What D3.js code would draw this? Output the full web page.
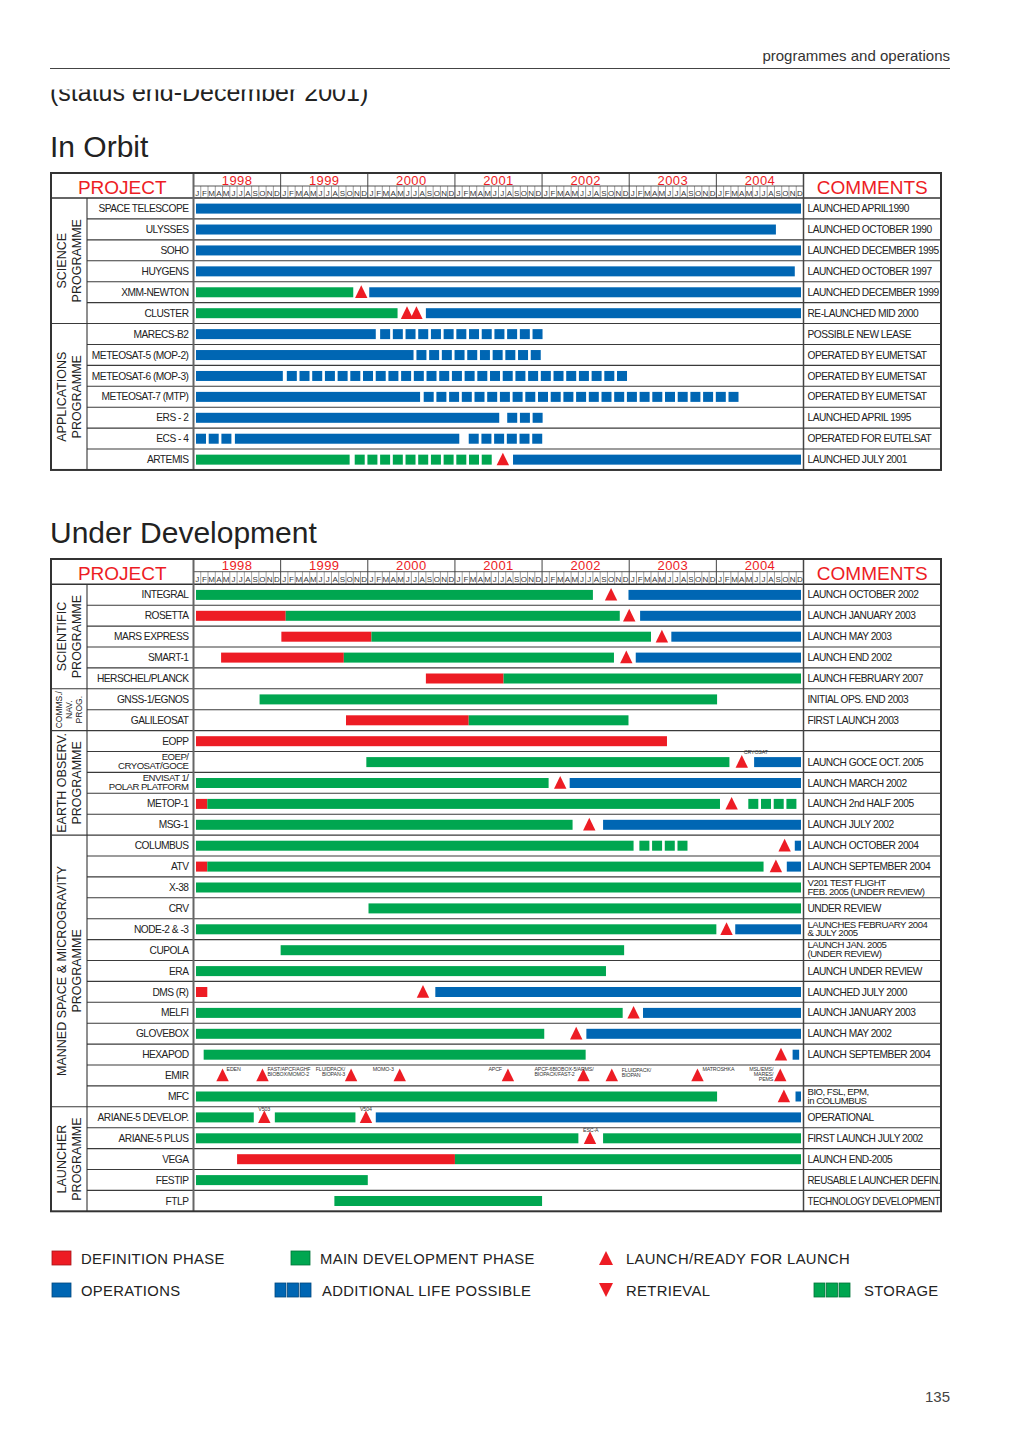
<!DOCTYPE html>
<html><head><meta charset="utf-8">
<script src="https://cdn.jsdelivr.net/npm/d3@7"></script>
<style>
body{margin:0;background:#fff}
svg{display:block}
text{font-family:"Liberation Sans",Arial,Helvetica,sans-serif}
</style>
</head><body>
<svg id="chart" width="1020" height="1443"></svg>
<script>
// ---------------- DATA ----------------
const years = [1998, 1999, 2000, 2001, 2002, 2003, 2004];
const monthLetters = ["J","F","M","A","M","J","J","A","S","O","N","D"];

// month units: 0 = start of Jan 1998, 84 = end of Dec 2004
const orbitGroups = [
  {label: ["SCIENCE", "PROGRAMME"], size: 6},
  {label: ["APPLICATIONS", "PROGRAMME"], size: 7}
];
const orbitProjects = ["SPACE TELESCOPE","ULYSSES","SOHO","HUYGENS","XMM-NEWTON","CLUSTER",
  "MARECS-B2","METEOSAT-5 (MOP-2)","METEOSAT-6 (MOP-3)","METEOSAT-7    (MTP)","ERS - 2","ECS - 4","ARTEMIS"];
const orbitComments = ["LAUNCHED APRIL1990","LAUNCHED OCTOBER 1990","LAUNCHED DECEMBER 1995",
  "LAUNCHED OCTOBER 1997","LAUNCHED DECEMBER 1999","RE-LAUNCHED MID 2000","POSSIBLE NEW  LEASE",
  "OPERATED BY EUMETSAT","OPERATED BY EUMETSAT","OPERATED BY EUMETSAT","LAUNCHED APRIL 1995",
  "OPERATED FOR EUTELSAT","LAUNCHED JULY 2001"];
const orbitBars = [
  [["ops", 0, 84]],
  [["ops", 0, 80.2]],
  [["ops", 0, 84]],
  [["ops", 0, 82.8]],
  [["dev", 0, 22.0], ["ops", 24.2, 84]],
  [["dev", 0, 28.1], ["ops", 32.0, 84]],
  [["ops", 0, 25.1], ["add", 25.7, 48]],
  [["ops", 0, 30.3], ["add", 30.7, 48]],
  [["ops", 0, 12.3], ["add", 12.85, 60]],
  [["ops", 0, 31.2], ["add", 31.7, 75.2]],
  [["ops", 0, 42.1], ["add", 43.2, 48]],
  [["add", 0, 5.3], ["ops", 5.7, 36.6], ["add", 37.9, 48]],
  [["dev", 0, 21.5], ["sto", 22.2, 41.3], ["ops", 44.0, 84]]
];
const orbitLaunches = [[],[],[],[],[23.1],[29.4, 30.7],[],[],[],[],[],[],[42.6]];
const orbitLaunchLabels = orbitLaunches.map(r => r.map(() => null));

const devGroups = [
  {label: ["SCIENTIFIC", "PROGRAMME"], size: 5},
  {label: ["COMMS./", "NAV.", "PROG."], size: 2},
  {label: ["EARTH OBSERV.", "PROGRAMME"], size: 5},
  {label: ["MANNED SPACE & MICROGRAVITY", "PROGRAMME"], size: 13},
  {label: ["LAUNCHER", "PROGRAMME"], size: 5}
];
const devProjects = ["INTEGRAL","ROSETTA","MARS EXPRESS","SMART-1","HERSCHEL/PLANCK",
  "GNSS-1/EGNOS","GALILEOSAT",
  "EOPP","EOEP/\nCRYOSAT/GOCE","ENVISAT 1/\nPOLAR PLATFORM","METOP-1","MSG-1",
  "COLUMBUS","ATV","X-38","CRV","NODE-2 & -3","CUPOLA","ERA","DMS (R)","MELFI","GLOVEBOX","HEXAPOD","EMIR","MFC",
  "ARIANE-5 DEVELOP.","ARIANE-5 PLUS","VEGA","FESTIP","FTLP"];
const devComments = ["LAUNCH OCTOBER 2002","LAUNCH JANUARY 2003","LAUNCH MAY  2003","LAUNCH END 2002",
  "LAUNCH FEBRUARY 2007","INITIAL OPS. END 2003","FIRST LAUNCH 2003",
  "","LAUNCH GOCE OCT. 2005","LAUNCH MARCH 2002","LAUNCH 2nd HALF 2005","LAUNCH JULY 2002",
  "LAUNCH OCTOBER 2004","LAUNCH SEPTEMBER 2004","V201 TEST FLIGHT\nFEB. 2005 (UNDER REVIEW)","UNDER REVIEW",
  "LAUNCHES FEBRUARY 2004\n&  JULY 2005","LAUNCH JAN. 2005\n(UNDER REVIEW)","LAUNCH UNDER REVIEW",
  "LAUNCHED JULY 2000","LAUNCH JANUARY 2003","LAUNCH MAY 2002","LAUNCH SEPTEMBER 2004","",
  "BIO, FSL, EPM,\nin COLUMBUS","OPERATIONAL","FIRST LAUNCH JULY 2002","LAUNCH END-2005",
  "REUSABLE LAUNCHER DEFIN.","TECHNOLOGY DEVELOPMENT"];
const devBars = [
  [["dev", 0, 55.0], ["ops", 59.9, 84]],
  [["def", 0, 12.7], ["dev", 12.7, 58.7], ["ops", 61.5, 84]],
  [["def", 12.1, 24.5], ["dev", 24.5, 63.0], ["ops", 65.8, 84]],
  [["def", 3.8, 20.7], ["dev", 20.7, 57.9], ["ops", 60.9, 84]],
  [["def", 32.0, 42.7], ["dev", 42.7, 84]],
  [["dev", 9.1, 72.1]],
  [["def", 21.0, 37.9], ["dev", 37.9, 59.9]],
  [["def", 0, 65.2]],
  [["dev", 23.8, 73.8], ["ops", 77.2, 84]],
  [["dev", 0, 48.9], ["ops", 51.8, 84]],
  [["def", 0, 1.9], ["dev", 1.9, 72.5], ["sto", 76.4, 84]],
  [["dev", 0, 52.2], ["ops", 56.4, 84]],
  [["dev", 0, 60.6], ["sto", 61.4, 68.1], ["ops", 82.8, 84]],
  [["def", 0, 1.9], ["dev", 1.9, 78.5], ["ops", 81.7, 84]],
  [["dev", 0, 84]],
  [["dev", 24.1, 84]],
  [["dev", 0, 72.0], ["ops", 74.6, 84]],
  [["dev", 12.0, 59.3]],
  [["dev", 0, 56.8]],
  [["def", 0, 1.9], ["ops", 33.3, 84]],
  [["dev", 0, 59.1], ["ops", 61.9, 84]],
  [["dev", 0, 48.3], ["ops", 54.1, 84]],
  [["dev", 1.4, 54.0], ["ops", 82.5, 83.4]],
  [],
  [["dev", 0, 72.1], ["ops", 82.9, 84]],
  [["dev", 0, 8.3], ["dev", 11.2, 22.3], ["ops", 25.1, 84]],
  [["dev", 0, 53.0], ["dev", 56.4, 84]],
  [["def", 6.0, 36.0], ["dev", 36.0, 84]],
  [["dev", 0, 24.0]],
  [["dev", 19.4, 48.0]]
];
const devLaunches = [[57.5],[60.0],[64.5],[59.6],[],[],[],[],[75.5],[50.5],[74.1],[54.5],
  [81.4],[80.2],[],[],[73.4],[],[],[31.6],[60.6],[52.7],[80.9],
  [4.0, 9.5, 21.7, 28.4, 43.3, 53.7, 57.6, 69.4, 80.8],
  [81.3],[9.75, 23.75],[54.6],[],[],[]];
const devLaunchLabels = devLaunches.map(r => r.map(() => null));
devLaunchLabels[8] = [["CRYOSAT"]];
devLaunchLabels[23] = [["EDEN"], ["FAST/APCF/AGHF", "BIOBOX/MOMO-2"], ["FLUIDPACK/", "BIOPAN-3"], ["MOMO-3"],
  ["APCF"], ["APCF-6BIOBOX-5/ARMS/", "BIOPACK/FAST-2"], ["FLUIDPACK/", "BIOPAN"], ["MATROSHKA"],
  ["MSL/EMS/", "MARES/", "PEMS"]];
devLaunchLabels[25] = [["V503"], ["V504"]];
devLaunchLabels[26] = [["ESC-A"]];

const legendItems = [
  ["def", "DEFINITION PHASE"], ["dev", "MAIN DEVELOPMENT PHASE"], ["launch", "LAUNCH/READY FOR LAUNCH"],
  ["ops", "OPERATIONS"], ["add", "ADDITIONAL LIFE POSSIBLE"], ["retrieval", "RETRIEVAL"], ["sto", "STORAGE"]
];

// ---------------- LAYOUT / STYLE ----------------
const colors = {def: "#ed1c24", dev: "#00a650", ops: "#0066b3", add: "#0066b3", sto: "#00a650", launch: "#ed1c24"};
const RED = "#ed1c24";
// label placement for small launch labels: [dx of text anchor from apex, anchor, dy of first baseline from row top]
const labelLayout = {
  "CRYOSAT": [2, "start", 2.5],
  "EDEN": [4, "start", 5.5],
  "FAST/APCF/AGHF": [5, "start", 5.5],
  "FLUIDPACK/|BIOPAN-3": [-6, "end", 5.5],
  "MOMO-3": [-6, "end", 5.5],
  "APCF": [-6, "end", 5.5],
  "APCF-6BIOBOX-5/ARMS/": [-49, "start", 5.5],
  "FLUIDPACK/|BIOPAN": [10, "start", 7],
  "MATROSHKA": [5, "start", 5.5],
  "MSL/EMS/": [-7, "end", 5.5],
  "V503": [-6, "start", 4],
  "V504": [-6, "start", 4],
  "ESC-A": [-7, "start", 4]
};

const svg = d3.select("#chart");
const L = {left: 51, grp: 87, name: 193.5, time1: 803.5, right: 941};
const x = d3.scaleLinear().domain([0, 84]).range([L.name, L.time1]);

// page header
svg.append("line").attr("x1", 50).attr("x2", 950).attr("y1", 68.5).attr("y2", 68.5)
  .attr("stroke", "#444").attr("stroke-width", 1);
svg.append("text").attr("x", 950).attr("y", 61).attr("text-anchor", "end")
  .attr("font-size", 15).attr("fill", "#333").text("programmes and operations");
svg.append("clipPath").attr("id", "statusclip").append("rect")
  .attr("x", 0).attr("y", 89.5).attr("width", 1020).attr("height", 40);
svg.append("text").attr("x", 50).attr("y", 101).attr("font-size", 25).attr("fill", "#222")
  .attr("clip-path", "url(#statusclip)").text("(status end-December 2001)");
svg.append("text").attr("x", 50).attr("y", 157).attr("font-size", 30).attr("fill", "#222").text("In Orbit");
svg.append("text").attr("x", 50).attr("y", 543).attr("font-size", 30).attr("fill", "#222").text("Under Development");
svg.append("text").attr("x", 950).attr("y", 1402).attr("text-anchor", "end")
  .attr("font-size", 15).attr("fill", "#444").text("135");

function multiText(g, lines, xPos, rowTop, rowH, anchor, size, maxW) {
  const t = g.append("text").attr("x", xPos).attr("text-anchor", anchor)
    .attr("font-size", lines.length > 1 ? size - 0.6 : size)
    .attr("letter-spacing", -0.5).attr("fill", "#222");
  const fit = el => {
    const w = el.node().getComputedTextLength();
    if (w > maxW) el.attr("textLength", maxW).attr("lengthAdjust", "spacingAndGlyphs");
  };
  if (lines.length === 1) {
    t.attr("y", rowTop + rowH / 2 + 3.7).text(lines[0]);
    fit(t);
  } else {
    lines.forEach((s, i) => fit(t.append("tspan").attr("x", xPos).attr("y", rowTop + 8.8 + i * 8.9).text(s)));
  }
}

function drawTable(cfg) {
  const g = svg.append("g");
  const n = cfg.projects.length;
  const rowTop = i => cfg.headerBottom + i * cfg.rowH;
  const bottom = rowTop(n);

  // header: years
  years.forEach((yr, i) => {
    g.append("text").attr("x", x(i * 12 + 6)).attr("y", cfg.yearBottom - 1.3)
      .attr("text-anchor", "middle").attr("font-size", 13).attr("letter-spacing", 0.4)
      .attr("fill", RED).text(yr);
  });
  // header: months
  d3.range(84).forEach(m => {
    g.append("text").attr("x", x(m + 0.5)).attr("y", cfg.headerBottom - 2.3)
      .attr("text-anchor", "middle").attr("font-size", 8).attr("fill", "#333")
      .attr("textLength", m % 12 === 2 || m % 12 === 4 ? 6.6 : null)
      .text(monthLetters[m % 12]);
    if (m > 0 && m % 12 !== 0) {
      g.append("line").attr("x1", x(m)).attr("x2", x(m)).attr("y1", cfg.yearBottom).attr("y2", cfg.headerBottom)
        .attr("stroke", "#777").attr("stroke-width", 0.7);
    }
  });
  d3.range(1, 7).forEach(k => {
    g.append("line").attr("x1", x(k * 12)).attr("x2", x(k * 12)).attr("y1", cfg.top).attr("y2", cfg.headerBottom)
      .attr("stroke", "#444").attr("stroke-width", 1);
  });
  g.append("line").attr("x1", L.name).attr("x2", L.time1).attr("y1", cfg.yearBottom).attr("y2", cfg.yearBottom)
    .attr("stroke", "#444").attr("stroke-width", 0.9);
  g.append("text").attr("x", (L.left + L.name) / 2).attr("y", cfg.headerBottom - 4.5)
    .attr("text-anchor", "middle").attr("font-size", 19).attr("fill", RED).text("PROJECT");
  g.append("text").attr("x", (L.time1 + L.right) / 2).attr("y", cfg.headerBottom - 4.5)
    .attr("text-anchor", "middle").attr("font-size", 19).attr("fill", RED).text("COMMENTS");

  // row lines
  const groupStarts = new Set();
  let acc = 0;
  cfg.groups.forEach(gr => { groupStarts.add(acc); acc += gr.size; });
  d3.range(1, n).forEach(i => {
    g.append("line").attr("x1", groupStarts.has(i) ? L.left : L.grp).attr("x2", L.right)
      .attr("y1", rowTop(i)).attr("y2", rowTop(i)).attr("stroke", "#3a3a3a").attr("stroke-width", 1.1);
  });
  g.append("line").attr("x1", L.left).attr("x2", L.right).attr("y1", cfg.headerBottom).attr("y2", cfg.headerBottom)
    .attr("stroke", "#333").attr("stroke-width", 1.5);
  g.append("line").attr("x1", L.grp).attr("x2", L.grp).attr("y1", cfg.headerBottom).attr("y2", bottom)
    .attr("stroke", "#333").attr("stroke-width", 1.1);
  g.append("line").attr("x1", L.name).attr("x2", L.name).attr("y1", cfg.top).attr("y2", bottom)
    .attr("stroke", "#666").attr("stroke-width", 2);
  g.append("line").attr("x1", L.time1).attr("x2", L.time1).attr("y1", cfg.top).attr("y2", bottom)
    .attr("stroke", "#444").attr("stroke-width", 1.5);
  g.append("rect").attr("x", L.left).attr("y", cfg.top).attr("width", L.right - L.left)
    .attr("height", bottom - cfg.top).attr("fill", "none").attr("stroke", "#333").attr("stroke-width", 2);

  // group labels
  acc = 0;
  cfg.groups.forEach(gr => {
    const cy = (rowTop(acc) + rowTop(acc + gr.size)) / 2;
    const cx = (L.left + L.grp) / 2;
    const three = gr.label.length > 2;
    const fs = three ? 8.5 : 12.5, lh = three ? 10 : 14.5;
    const t = g.append("text").attr("transform", `translate(${cx},${cy}) rotate(-90)`)
      .attr("text-anchor", "middle").attr("font-size", fs).attr("fill", "#222");
    gr.label.forEach((s, i) => t.append("tspan").attr("x", 0)
      .attr("y", (i - (gr.label.length - 1) / 2) * lh + fs * 0.36).text(s));
    acc += gr.size;
  });

  // names and comments
  cfg.projects.forEach((p, i) => multiText(g, p.split("\n"), L.name - 5, rowTop(i), cfg.rowH, "end", 10.2, 100));
  cfg.comments.forEach((c, i) => { if (c) multiText(g, c.split("\n"), L.time1 + 4, rowTop(i), cfg.rowH, "start", 10.2, 132.5); });

  // bars
  const xs = v => Math.max(x(v), L.name + 2.5);
  const xe = v => Math.min(x(v), L.time1 - 2.5);
  cfg.bars.forEach((segs, i) => {
    const y0 = rowTop(i) + 5.6;
    segs.forEach(([type, s, e]) => {
      if (type === "add" || type === "sto") {
        d3.range(xs(s), xe(e) - 9.3, 12.7).forEach(sx => {
          g.append("rect").attr("x", sx).attr("y", y0).attr("width", 10).attr("height", 10).attr("fill", colors[type]);
        });
      } else {
        g.append("rect").attr("x", xs(s)).attr("y", y0).attr("width", xe(e) - xs(s)).attr("height", 10)
          .attr("fill", colors[type]);
      }
    });
  });
  // launches
  cfg.launches.forEach((ms, i) => {
    const top = rowTop(i) + 3.6, bot = rowTop(i) + 16.3;
    ms.forEach((m, j) => {
      const cx = x(m);
      g.append("path").attr("d", `M${cx - 6.2},${bot}L${cx + 6.2},${bot}L${cx},${top}Z`).attr("fill", RED);
      const lab = cfg.labels[i][j];
      if (lab) {
        const key = labelLayout[lab[0]] ? lab[0] : lab.join("|");
        const [dx, anchor, dy] = labelLayout[key];
        const t = g.append("text").attr("text-anchor", anchor).attr("font-size", 5.3)
          .attr("letter-spacing", -0.15).attr("fill", "#333");
        lab.forEach((s, k) => t.append("tspan").attr("x", cx + dx).attr("y", rowTop(i) + dy + k * 5.3).text(s));
      }
    });
  });
}

drawTable({top: 173, yearBottom: 186, headerBottom: 198, rowH: 20.92,
  groups: orbitGroups, projects: orbitProjects, comments: orbitComments,
  bars: orbitBars, launches: orbitLaunches, labels: orbitLaunchLabels});
drawTable({top: 559, yearBottom: 571.7, headerBottom: 584.3, rowH: 20.9,
  groups: devGroups, projects: devProjects, comments: devComments,
  bars: devBars, launches: devLaunches, labels: devLaunchLabels});

// legend
const legendPos = [[52, 1258], [291, 1258], [606, 1258], [52, 1290], [275, 1290], [606, 1290], [814, 1290]];
const legendTextX = [81, 320, 626, 81, 322, 626, 864];
legendItems.forEach(([type, label], i) => {
  const [lx, ly] = legendPos[i];
  if (type === "def" || type === "dev" || type === "ops") {
    svg.append("rect").attr("x", lx).attr("y", ly - 7).attr("width", 19).attr("height", 14)
      .attr("fill", colors[type]).attr("stroke", d3.color(colors[type]).darker(1)).attr("stroke-width", 0.8);
  } else if (type === "add" || type === "sto") {
    d3.range(3).forEach(k => svg.append("rect").attr("x", lx + k * 12.5).attr("y", ly - 7)
      .attr("width", 11).attr("height", 14).attr("fill", colors[type])
      .attr("stroke", d3.color(colors[type]).darker(1)).attr("stroke-width", 0.8));
  } else if (type === "launch") {
    svg.append("path").attr("d", `M${lx - 7},${ly + 7}L${lx + 7},${ly + 7}L${lx},${ly - 7}Z`).attr("fill", RED);
  } else {
    svg.append("path").attr("d", `M${lx - 7},${ly - 7}L${lx + 7},${ly - 7}L${lx},${ly + 7}Z`).attr("fill", RED);
  }
  svg.append("text").attr("x", legendTextX[i]).attr("y", ly + 5.5).attr("font-size", 14.8)
    .attr("letter-spacing", 0.35).attr("fill", "#222").text(label);
});
</script>
</body></html>
